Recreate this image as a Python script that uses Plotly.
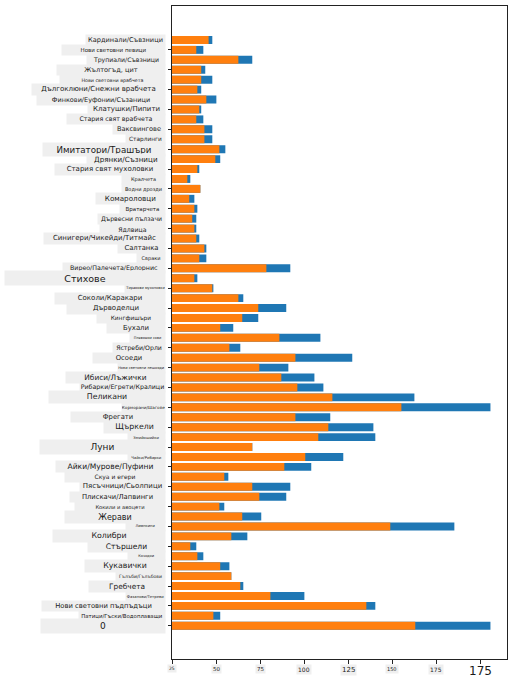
import plotly.graph_objects as go

# bird groups, top to bottom as they appear on the chart
categories = [
    "Кардинали/Съвзници", "Нови световни певици", "Трупиали/Съвзници",
    "Жълтогъд, цит", "Нови световни врабчета", "Дългоклюни/Снежни врабчета",
    "Финкови/Еуфонии/Съзаници", "Клатушки/Пипити", "Стария свят врабчета",
    "Ваксвингове", "Старлинги", "Имитатори/Трашъри", "Дрянки/Съзници",
    "Стария свят мухоловки", "Кралчета", "Водни дрозди", "Комароловци",
    "Вратарчета", "Дървесни пълзачи", "Ядлвица", "Синигери/Чикейди/Титмайс",
    "Салтанка", "Свраки", "Вирео/Палечета/Ерлорнис", "Стихове",
    "Тиранови мухоловки", "Соколи/Каракари", "Дърводелци", "Кингфишъри",
    "Бухали", "Плевнени сови", "Ястреби/Орли", "Осоеди",
    "Нови световни лешояди", "Ибиси/Лъжички", "Рибарки/Егрети/Кралици",
    "Пеликани", "Корморани/Шагове", "Фрегати", "Щъркели", "Змийошийки",
    "Луни", "Чайки/Рибарки", "Айки/Мурове/Пуфини", "Скуа и егери",
    "Пясъчници/Сьолпици", "Плискачи/Лапвинги", "Кокили и авоцети", "Жерави",
    "Лимпкини", "Колибри", "Стършели", "Козодои", "Кукавички",
    "Гълъби/Гълъбови", "Гребчета", "Фазанови/Тетреви",
    "Нови световни пъдпъдъци", "Патици/Гъски/Водоплаващи", "0",
]

# orange bar (lower value) and blue bar end (upper value)
min_vals = [
    20.8, 13.8, 37.7, 16.6, 16.6, 14.4, 19.5, 15.5, 13.8, 18.4,
    18.4, 26.9, 24.6, 14.4, 8.7, 16.1, 9.8, 12.7, 11.5, 12.7,
    13.8, 18.4, 15.5, 53.6, 12.7, 22.9, 37.7, 49.0, 39.9, 27.4,
    61.0, 32.6, 70.1, 49.6, 62.1, 71.2, 91.1, 130.3, 70.1, 88.8,
    83.1, 45.6, 75.7, 63.8, 29.7, 45.6, 49.6, 26.9, 39.9, 124.0,
    33.7, 10.4, 14.4, 27.4, 33.7, 38.8, 55.9, 110.4, 23.5, 138.2,
]
max_vals = [
    22.9, 17.8, 45.6, 18.9, 22.9, 16.6, 25.2, 16.6, 17.8, 22.9,
    22.9, 30.3, 27.4, 15.5, 10.4, 16.1, 12.7, 14.4, 13.8, 13.8,
    15.5, 19.5, 19.5, 67.2, 14.4, 23.5, 40.5, 64.9, 49.0, 34.8,
    84.3, 38.8, 102.4, 66.1, 80.9, 86.0, 137.7, 180.9, 89.9, 114.4,
    115.5, 45.6, 97.3, 79.1, 32.0, 67.2, 64.9, 29.7, 50.7, 160.4,
    42.8, 13.8, 17.8, 32.6, 33.7, 40.5, 75.2, 115.5, 27.4, 180.9,
]

x_ticks = [0, 25, 50, 75, 100, 125, 150, 175]
x_tick_text = ["25", "50", "75", "100", "125", "150", "175", "175"]

# label look: font size and width of the grey box behind each label
label_sizes = [
    6.6, 5.5, 6.2, 6.6, 4.8, 7, 6.5, 7, 6.3, 6.6,
    5.8, 8.7, 7.2, 7, 5, 5, 7.2, 5.5, 6.2, 6.2,
    7, 6.8, 5, 6.3, 9.5, 3.5, 7, 7, 5.8, 6.9,
    3.5, 6.2, 6.8, 3.6, 7.4, 6.3, 7.8, 4.2, 6.8, 7.8,
    3.8, 9, 3.8, 7.6, 6, 7, 6.8, 5.2, 8, 3.6,
    7.8, 7.6, 3.6, 7.8, 4.6, 7.4, 3.8, 6.8, 5.4, 9,
]
label_boxes = [
    79, 103, 78, 108, 105, 133, 128, 77, 98, 52,
    39, 122, 78, 110, 43, 43, 69, 45, 67, 65,
    121, 47, 28, 102, 160, 40, 110, 98, 68, 58,
    35, 52, 72, 47, 99, 85, 116, 43, 94, 61,
    37, 125, 37, 109, 100, 85, 95, 90, 100, 39,
    112, 77, 37, 80, 49, 76, 39, 123, 86, 124,
]
tick_sizes = [4.5, 5.5, 5.5, 6, 7, 5, 6, 12]

ORANGE = "#ff7f0e"
BLUE = "#1f77b4"
BOX = "#efefef"

fig = go.Figure()
fig.add_trace(go.Bar(y=categories, x=max_vals, orientation="h",
                     marker_color=BLUE, marker_line_width=0, width=0.8,
                     name="max"))
fig.add_trace(go.Bar(y=categories, x=min_vals, orientation="h",
                     marker_color=ORANGE, marker_line_width=0, width=0.8,
                     name="min"))

annotations = []
for i, (cat, size, box) in enumerate(zip(categories, label_sizes, label_boxes)):
    annotations.append(dict(
        text=cat, xref="paper", x=0, xanchor="right", xshift=-6,
        yref="y", y=i, yanchor="middle", showarrow=False,
        width=box, height=max(10, size * 1.5), align="center",
        bgcolor=BOX, borderpad=0,
        font=dict(family="DejaVu Sans", size=size, color="#1a1a1a"),
    ))
for i, (tv, tt, ts) in enumerate(zip(x_ticks, x_tick_text, tick_sizes)):
    big = i == len(x_ticks) - 1
    annotations.append(dict(
        text=tt, xref="x", x=tv, xanchor="center",
        yref="paper", y=0, yanchor="top", yshift=-5 if not big else -3,
        showarrow=False, bgcolor="rgba(0,0,0,0)" if big else BOX,
        borderpad=1,
        font=dict(family="DejaVu Sans", size=ts, color="#1a1a1a"),
    ))

fig.update_layout(
    width=512, height=683,
    margin=dict(l=172, r=5, t=6, b=24),
    barmode="overlay", showlegend=False,
    plot_bgcolor="white", paper_bgcolor="white",
    annotations=annotations,
)
fig.update_xaxes(range=[0, 190.3], showgrid=False, zeroline=False,
                 showline=True, linecolor="#222", linewidth=1, mirror=True,
                 ticks="outside", ticklen=3.5, tickcolor="#222",
                 tickvals=x_ticks, showticklabels=False)
fig.update_yaxes(type="category", categoryorder="array",
                 categoryarray=categories, range=[62.35, -3.42],
                 showgrid=False, zeroline=False, showline=True,
                 linecolor="#222", linewidth=1, mirror=True,
                 ticks="outside", ticklen=3.5, tickcolor="#222",
                 showticklabels=False)

fig.write_html(
    "out.html",
    config={"displayModeBar": False},
    post_script="document.body.style.margin='0';"
                "document.body.style.overflow='hidden';",
)
